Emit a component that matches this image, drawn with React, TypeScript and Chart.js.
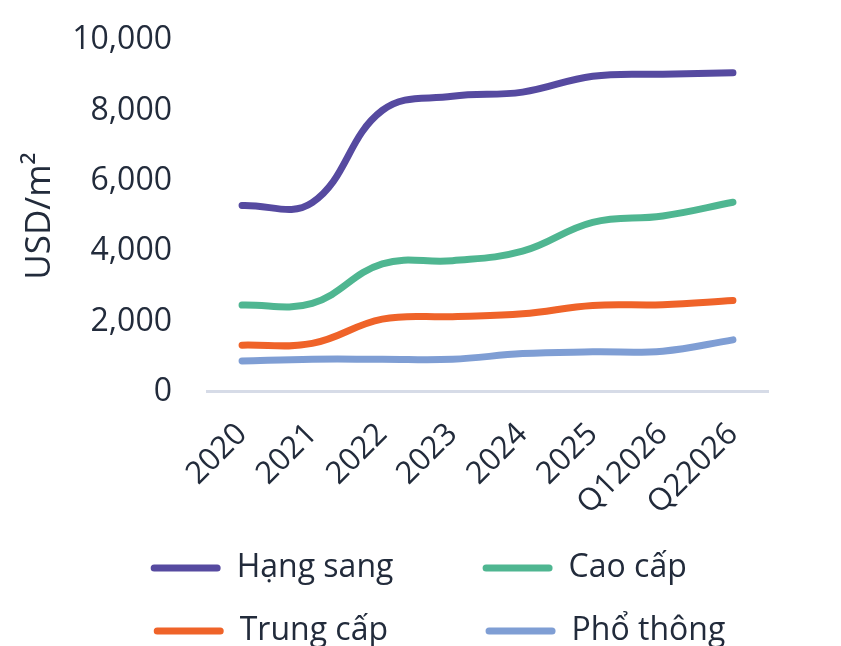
import { useEffect, useRef } from "react";
import { Chart, registerables } from "chart.js";

Chart.register(...registerables);

const categories = ["2020", "2021", "2022", "2023", "2024", "2025", "Q12026", "Q22026"];
const hangSang = [5300, 5380, 8000, 8400, 8520, 8970, 9030, 9070];
const caoCap = [2470, 2520, 3640, 3730, 4000, 4820, 5000, 5390];
const trungCap = [1330, 1380, 2070, 2140, 2220, 2460, 2480, 2600];
const phoThong = [880, 930, 930, 930, 1090, 1140, 1160, 1480];

const yTicks = [0, 2000, 4000, 6000, 8000, 10000];

const textColor = "#222b3b";
const fontFamily = "'Open Sans', 'Noto Sans', sans-serif";
const legendFontSize = 32;

export default function App() {
  const canvasRef = useRef<HTMLCanvasElement | null>(null);

  useEffect(() => {
    if (!canvasRef.current) {
      return;
    }

    const line = (label: string, data: number[], color: string) => ({
      label,
      data,
      borderColor: color,
      backgroundColor: color,
      borderWidth: 7,
      borderCapStyle: "round" as const,
      tension: 0.4,
      pointRadius: 0,
      fill: false,
      yAxisID: "y"
    });

    const chart = new Chart(canvasRef.current, {
      type: "line",
      data: {
        labels: categories,
        datasets: [
          line("Hạng sang", hangSang, "#564aa0"),
          line("Cao cấp", caoCap, "#4fb691"),
          line("Trung cấp", trungCap, "#ef6329"),
          line("Phổ thông", phoThong, "#7f9ed4")
        ]
      },
      options: {
        responsive: true,
        maintainAspectRatio: false,
        animation: false,
        layout: { padding: { left: 38, right: 0, top: 0, bottom: 0 } },
        scales: {
          x: {
            offset: true,
            grid: { display: false, drawTicks: false },
            border: { display: true, color: "#d6dbe7", width: 3 },
            ticks: {
              color: textColor,
              font: { family: fontFamily, size: 31 },
              minRotation: 45,
              maxRotation: 45,
              padding: 24
            },
            afterFit: (axis) => {
              axis.height = axis.height - 25;
            }
          },
          y: {
            min: 0,
            max: 10000,
            afterBuildTicks: (axis) => {
              axis.ticks = yTicks.map((value) => ({ value }));
            },
            afterFit: (axis) => {
              axis.width = 169;
              axis.paddingTop = 40;
              axis.paddingBottom = 20;
            },
            grid: { display: false, drawTicks: false },
            border: { display: false },
            ticks: {
              color: textColor,
              font: { family: fontFamily, size: 32 },
              padding: 35,
              callback: (value) => Number(value).toLocaleString("en-US")
            },
            title: {
              display: true,
              text: "USD/m²",
              color: textColor,
              font: { family: fontFamily, size: 35 },
              padding: { top: -19, bottom: 0 }
            }
          },
          spacer: {
            type: "linear",
            position: "right",
            display: true,
            grid: { display: false, drawTicks: false },
            border: { display: false },
            ticks: { display: false },
            afterFit: (axis) => {
              axis.width = 73;
            }
          }
        },
        plugins: {
          legend: {
            position: "bottom",
            labels: {
              color: textColor,
              font: { family: fontFamily, size: legendFontSize },
              boxWidth: 70,
              boxHeight: 7,
              useBorderRadius: true,
              borderRadius: 3.5,
              padding: 31,
              // pad texts so the two rows line up in columns, as in the original
              generateLabels: (c) => {
                const items = Chart.defaults.plugins.legend.labels.generateLabels(c);
                const ctx = c.ctx;
                ctx.save();
                ctx.font = `${legendFontSize}px ${fontFamily}`;
                const secondCol = Math.max(
                  ...items.filter((_, i) => i % 2 === 1).map((item) => ctx.measureText(item.text).width)
                );
                const result = items.map((item, i) => {
                  const target = i % 2 === 0 ? 208 : secondCol;
                  let text = item.text;
                  while (ctx.measureText(text).width < target) {
                    text += " ";
                  }
                  return { ...item, text, lineWidth: 0 };
                });
                ctx.restore();
                return result;
              }
            }
          },
          tooltip: { enabled: false }
        }
      }
    });

    return () => chart.destroy();
  }, []);

  return (
    <div style={{ position: "absolute", left: 0, top: 0, width: 841, height: 657 }}>
      <canvas ref={canvasRef} />
    </div>
  );
}
